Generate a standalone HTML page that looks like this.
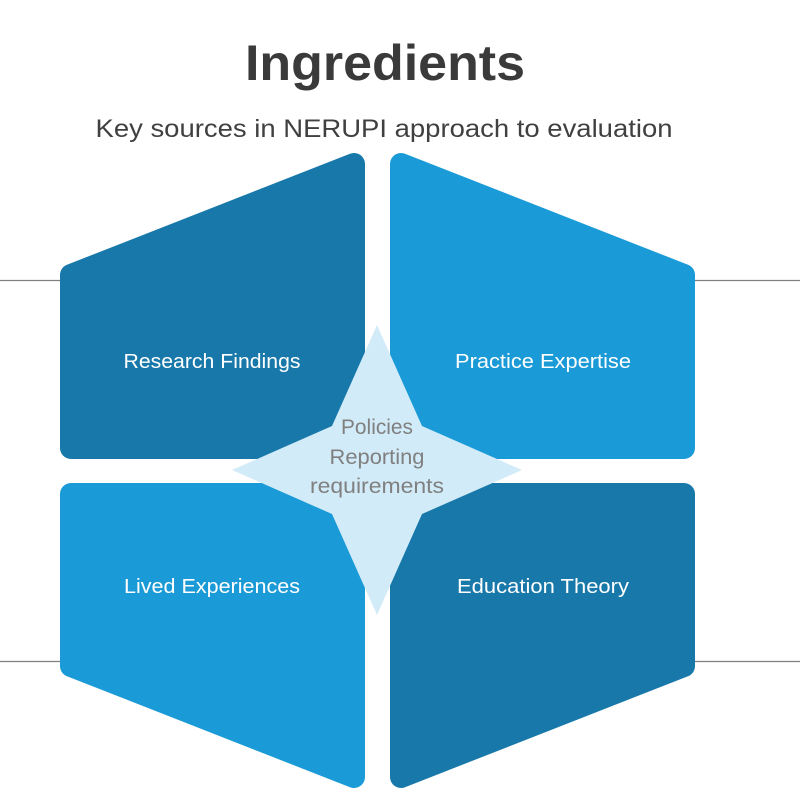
<!DOCTYPE html>
<html><head><meta charset="utf-8"><style>
html,body{margin:0;padding:0;background:#fff;}
svg{display:block;}
text{font-family:"Liberation Sans","DejaVu Sans",sans-serif;}
</style></head><body>
<svg width="800" height="800" viewBox="0 0 800 800" xmlns="http://www.w3.org/2000/svg">
<rect width="800" height="800" fill="#fff"/>
<line x1="0" y1="280.5" x2="70" y2="280.5" stroke="#808080" stroke-width="1.3"/>
<line x1="690" y1="280.5" x2="800" y2="280.5" stroke="#808080" stroke-width="1.3"/>
<line x1="0" y1="661.5" x2="70" y2="661.5" stroke="#808080" stroke-width="1.3"/>
<line x1="690" y1="661.5" x2="800" y2="661.5" stroke="#808080" stroke-width="1.3"/>
<g stroke-linejoin="round" stroke-width="22">
<polygon points="71,275 354,164 354,448 71,448" fill="#1778a9" stroke="#1778a9"/>
<polygon points="684,275 401,164 401,448 684,448" fill="#1a9ad6" stroke="#1a9ad6"/>
<polygon points="71,494 354,494 354,777 71,666" fill="#1a9ad6" stroke="#1a9ad6"/>
<polygon points="684,494 401,494 401,777 684,666" fill="#1778a9" stroke="#1778a9"/>
</g>
<polygon points="377,325 422,426 522,470 422,514 377,615 332,514 232,470 332,426" fill="#d2ebf8"/>
<text x="385" y="80" text-anchor="middle" font-size="50" font-weight="bold" fill="#3a3a3a" textLength="280" lengthAdjust="spacingAndGlyphs">Ingredients</text>
<text x="384" y="137" text-anchor="middle" font-size="25" fill="#404040" textLength="577" lengthAdjust="spacingAndGlyphs">Key sources in NERUPI approach to evaluation</text>
<g fill="#fff" font-size="20" text-anchor="middle">
<text x="212" y="368" textLength="177" lengthAdjust="spacingAndGlyphs">Research Findings</text>
<text x="543" y="368" textLength="176" lengthAdjust="spacingAndGlyphs">Practice Expertise</text>
<text x="212" y="593" textLength="176" lengthAdjust="spacingAndGlyphs">Lived Experiences</text>
<text x="543" y="593" textLength="172" lengthAdjust="spacingAndGlyphs">Education Theory</text>
</g>
<g fill="#808080" font-size="21" text-anchor="middle">
<text x="377" y="434" textLength="72" lengthAdjust="spacingAndGlyphs">Policies</text>
<text x="377" y="464" textLength="95" lengthAdjust="spacingAndGlyphs">Reporting</text>
<text x="377" y="493" textLength="134" lengthAdjust="spacingAndGlyphs">requirements</text>
</g>
</svg>
</body></html>
